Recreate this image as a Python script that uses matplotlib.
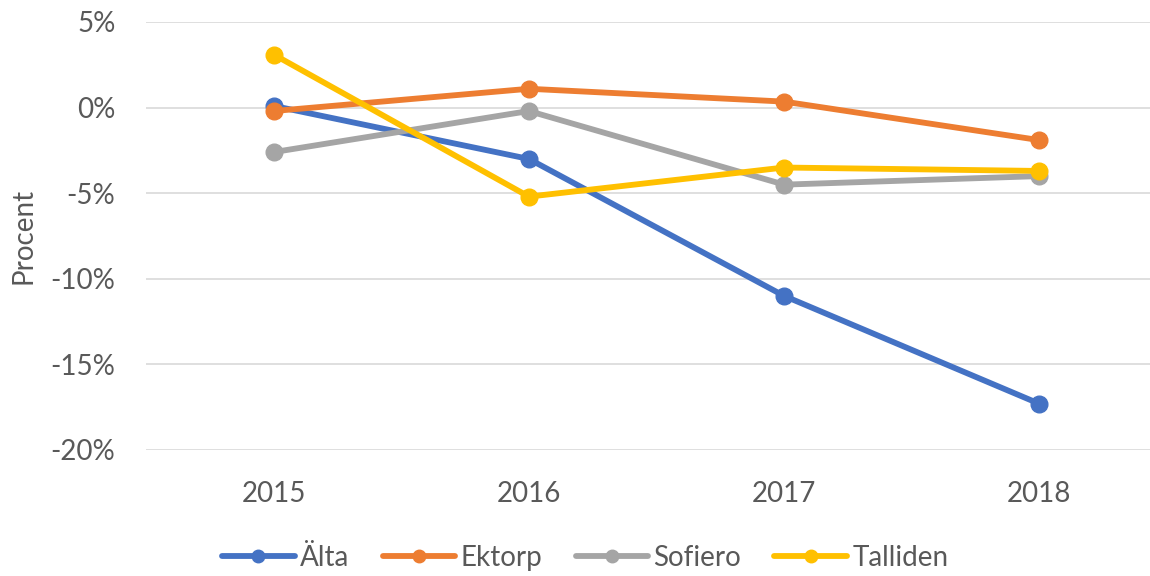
import matplotlib.pyplot as plt
from matplotlib.ticker import FuncFormatter

years = ["2015", "2016", "2017", "2018"]
series_names = ["Älta", "Ektorp", "Sofiero", "Talliden"]
alta = [0.1, -3.0, -11.0, -17.3]
ektorp = [-0.2, 1.1, 0.35, -1.9]
sofiero = [-2.6, -0.2, -4.5, -4.0]
talliden = [3.1, -5.2, -3.5, -3.7]
colors = ["#4472C4", "#ED7D31", "#A5A5A5", "#FFC000"]

plt.rcParams["font.family"] = ["Lato", "DejaVu Sans"]
text_color = "#595959"

fig = plt.figure(figsize=(11.5, 5.76), dpi=100)
ax = fig.add_axes([146 / 1150, 126 / 576, 1021 / 1150, 428 / 576])

x = range(len(years))
for name, values, color in zip(series_names, [alta, ektorp, sofiero, talliden], colors):
    ax.plot(
        x,
        values,
        color=color,
        linewidth=4.2,
        marker="o",
        markersize=12,
        label=name,
        solid_capstyle="round",
    )

ax.set_xlim(-0.5, 3.5)
ax.set_ylim(-20, 5)
ax.set_yticks([5, 0, -5, -10, -15, -20])
ax.yaxis.set_major_formatter(FuncFormatter(lambda v, _: f"{v:.0f}%"))
ax.set_xticks(list(x))
ax.set_xticklabels(years)
ax.grid(axis="y", color="#d9d9d9", linewidth=1.2)
ax.set_axisbelow(True)
for spine in ax.spines.values():
    spine.set_visible(False)
ax.tick_params(length=0, labelsize=20, colors=text_color)
ax.tick_params(axis="x", pad=22)
ax.tick_params(axis="y", pad=22)
ax.set_ylabel("Procent", fontsize=20, color=text_color)
ax.yaxis.set_label_coords(-110 / 1021, 0.5)

fig.legend(
    loc="center",
    bbox_to_anchor=(0.509, 0.031),
    ncol=4,
    frameon=False,
    fontsize=20,
    labelcolor=text_color,
    handlelength=2.6,
    handletextpad=0.2,
    columnspacing=1.2,
    markerscale=0.75,
)

fig.savefig("out.png", dpi=100)
